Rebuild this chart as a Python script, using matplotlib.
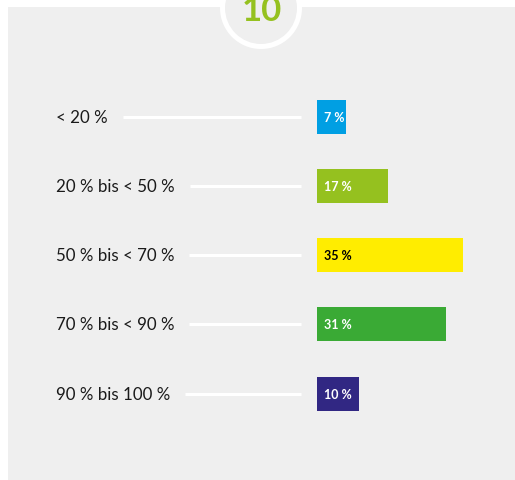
import matplotlib
matplotlib.use('Agg')
import matplotlib.pyplot as plt
from matplotlib.patches import Rectangle, Circle

categories = ['< 20 %', '20 % bis < 50 %', '50 % bis < 70 %',
              '70 % bis < 90 %', '90 % bis 100 %']
values = [7, 17, 35, 31, 10]
value_labels = ['7 %', '17 %', '35 %', '31 %', '10 %']
colors = ['#009fe3', '#95c11f', '#ffed00', '#3aaa35', '#312783']
label_colors = ['white', 'white', 'black', 'white', 'white']
badge = '10'

plt.rcParams['font.family'] = ['Lato', 'DejaVu Sans']

W, H = 515, 481
fig = plt.figure(figsize=(W / 100, H / 100), dpi=100)
fig.patch.set_facecolor('white')

# grey panel and the badge circle at the top
fig.patches.append(Rectangle((8, 0), W - 8, H - 8, transform=None,
                             facecolor='#efefef', edgecolor='none', zorder=-3))
fig.patches.append(Circle((261, H - 9), 41, transform=None,
                          facecolor='white', edgecolor='none', zorder=-2))
fig.patches.append(Circle((261, H - 9), 36, transform=None,
                          facecolor='#efefef', edgecolor='none', zorder=-1))
fig.text(261.5 / W, (H - 21) / H, badge, ha='center', va='baseline',
         fontsize=25, fontweight='bold', color='#95c11f', zorder=3)

row = 69.25
top = 83
ax = fig.add_axes([317 / W, (H - top - 5 * row) / H, 198 / W, 5 * row / H])
ax.set_zorder(5)
ax.set_facecolor('none')
ypos = list(range(len(values)))
ax.barh(ypos, values, height=0.49, color=colors)
ax.set_xlim(0, 35 * 198 / 146)
ax.set_ylim(4.5, -0.5)
ax.axis('off')

for y, lab, c in zip(ypos, value_labels, label_colors):
    ax.text(1.7, y, lab, ha='left', va='center', fontsize=9,
            fontweight='bold', color=c)

texts = []
for y, cat in zip(ypos, categories):
    t = ax.annotate(cat, xy=(56, y), xycoords=('figure pixels', 'data'),
                    ha='left', va='center', fontsize=12.2, color='#1a1a1a',
                    annotation_clip=False)
    texts.append(t)

fig.canvas.draw()
inv = ax.transData.inverted()
for y, t in zip(ypos, texts):
    bb = t.get_window_extent()
    x0 = inv.transform((bb.x1 + 15, 0))[0]
    x1 = inv.transform((301, 0))[0]
    ax.plot([x0, x1], [y, y], color='white', linewidth=2.2,
            solid_capstyle='butt', clip_on=False)

fig.savefig('out.png', dpi=100)
